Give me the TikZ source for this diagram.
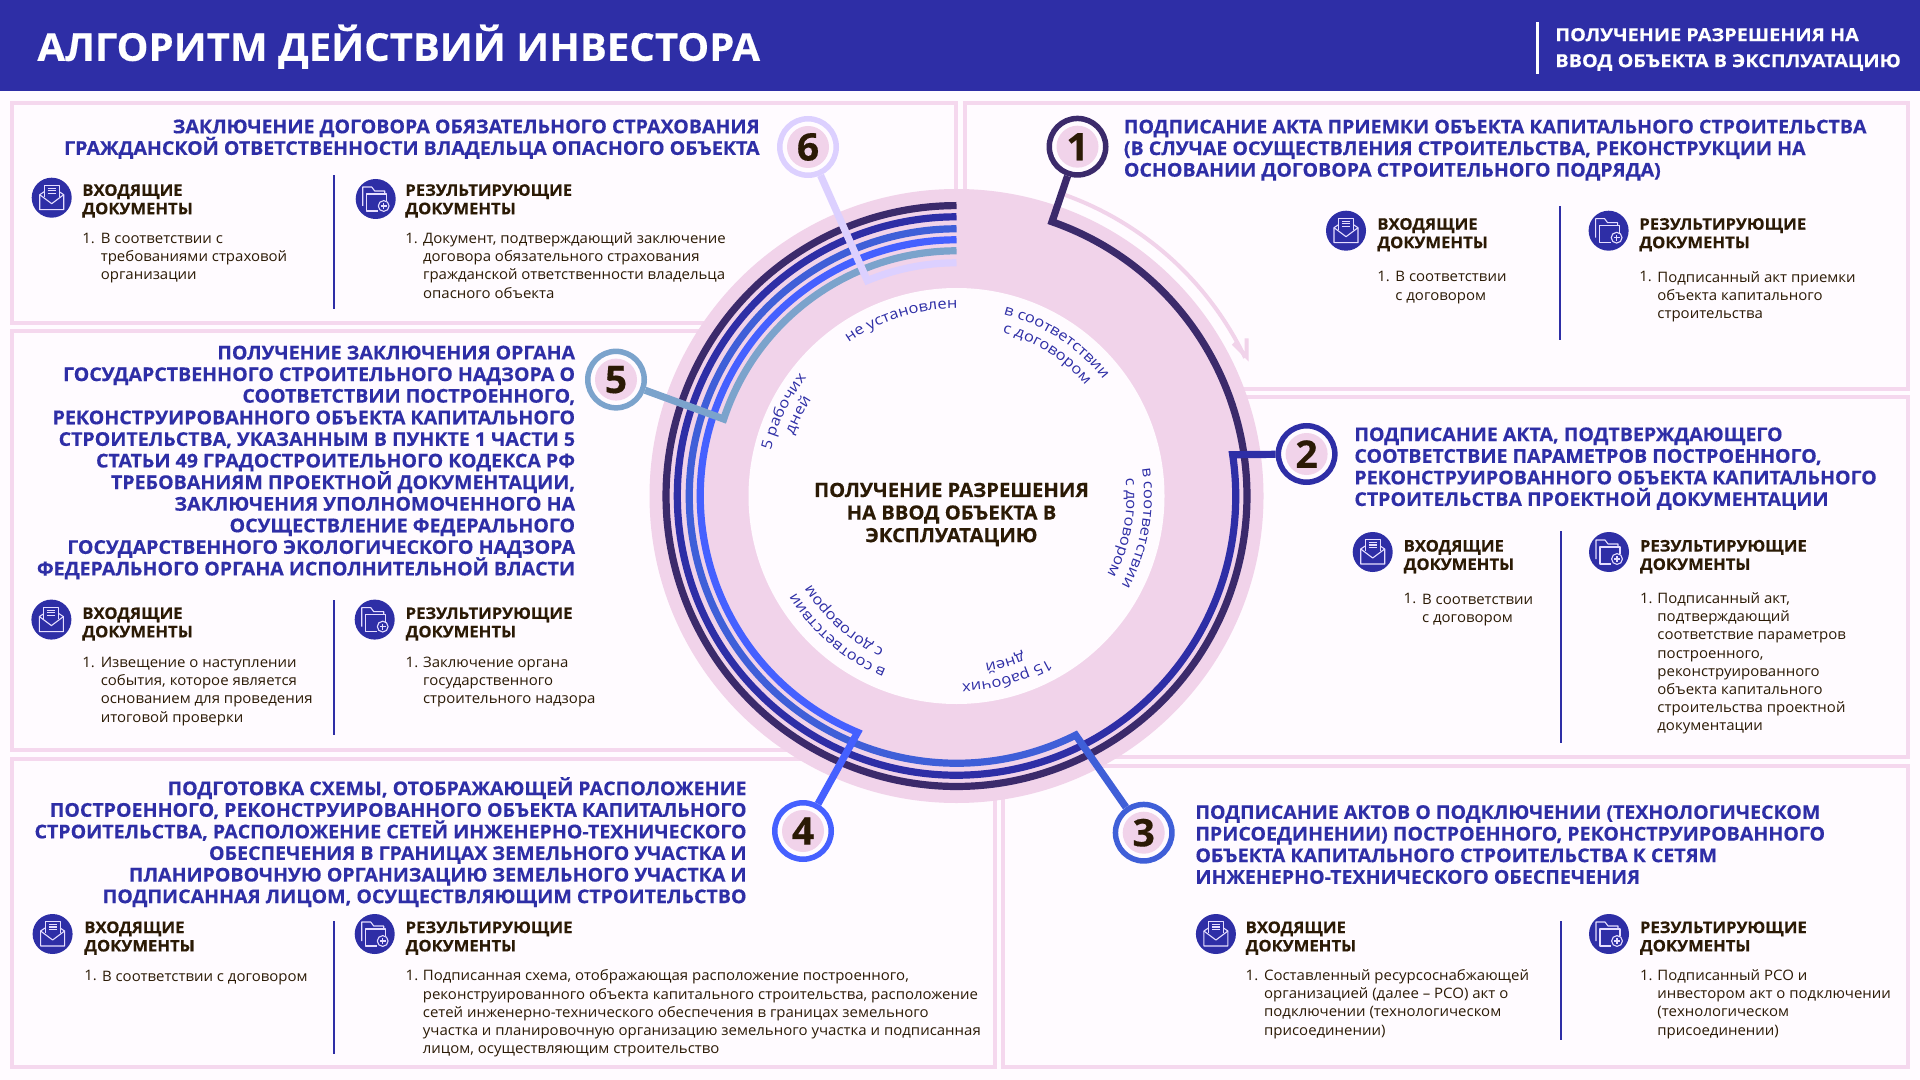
\documentclass[tikz,border=0pt]{standalone}
\usepackage{fontspec}
\setmainfont{Open Sans}
\newfontfamily\hfont{Open Sans}[FakeStretch=1.03,BoldFeatures={FakeBold=0.35}]
\newfontfamily\tfont{Open Sans}[FakeStretch=1.044,BoldFeatures={FakeBold=0.35}]
\newfontfamily\sfontx{Open Sans}[FakeStretch=1.1,BoldFeatures={FakeBold=0.3}]
\newfontfamily\dfont{Open Sans}[FakeStretch=1.04,BoldFeatures={FakeBold=0.3}]
\newfontfamily\bfontx{Open Sans}[FakeStretch=1.04]
\newfontfamily\lfont{Open Sans}[FakeStretch=1.12]
\usetikzlibrary{decorations.text,calc}
\definecolor{navy}{HTML}{2E2EA6}
\definecolor{inkc}{HTML}{2B1A05}
\definecolor{discc}{HTML}{F1D3EA}
\definecolor{framec}{HTML}{F5D8EE}
\definecolor{pagebg}{HTML}{FFFBFF}
\definecolor{rDark}{HTML}{3B2A6B}
\definecolor{rMid}{HTML}{3F5FD8}
\definecolor{rBright}{HTML}{4560FF}
\definecolor{rSteel}{HTML}{7BA3CC}
\definecolor{rLav}{HTML}{DCD0FF}
\definecolor{iconc}{HTML}{E6DEFF}
\tikzset{
  panel/.style={draw=framec,line width=2pt,fill=pagebg},
  heading/.style={inner sep=0pt,text=navy,font=\hfont\bfseries\fontsize{9.5}{10.8}\selectfont,
    execute at begin node=\strut,execute at end node=\strut,yshift=-1.7pt},
  headL/.style={heading,anchor=west,align=left},
  headR/.style={heading,anchor=east,align=right},
  doctitle/.style={inner sep=0pt,anchor=west,align=left,text=inkc,font=\dfont\bfseries\fontsize{8}{9.2}\selectfont,
    execute at begin node=\strut,execute at end node=\strut,yshift=-1.2pt},
  docbody/.style={inner sep=0pt,anchor=west,align=left,text=inkc,font=\bfontx\fontsize{7.2}{9.1}\selectfont,
    execute at begin node=\strut,execute at end node=\strut,yshift=-1.5pt},
  docnum/.style={inner sep=0pt,anchor=west,text=inkc,font=\bfontx\fontsize{7.2}{9.1}\selectfont},
  ring/.style={line width=3.6pt,line join=miter,miter limit=20},
  badge/.style={circle,draw=#1,line width=2.75pt,fill=pagebg,minimum size=28.25pt,inner sep=0pt},
  badgeinner/.style={circle,fill=discc,minimum size=21pt,inner sep=0pt,text=inkc,font=\hfont\bfseries\fontsize{19}{19}\selectfont},
  iconline/.style={draw=iconc,line width=.55pt,line join=round},
  envicon/.pic={
    \fill[navy] (0,0) circle[radius=10pt];
    \draw[iconline] (-7.5,-4) -- (-7.5,-12.5) -- (7.5,-12.5) -- (7.5,-1);
    \draw[iconline] (-7.5,-4) -- (-7.5,-1);
    \draw[iconline] (-4,-9.5) -- (4,-9.5) (-4,-7) -- (4,-7) (-4,-4.5) -- (4,-4.5);
    \draw[iconline] (-7.5,-6) -- (-12,-3) -- (-12,12) -- (12,12) -- (12,-3) -- (7.5,-6);
    \draw[iconline] (-12,-3) -- (0,6) -- (12,-3);
  },
  foldicon/.pic={
    \fill[navy] (0,0) circle[radius=10pt];
    \draw[iconline] (-13,7) -- (-13,-12) -- (-4,-12) -- (-1,-8) -- (9,-8) -- (9,-5);
    \draw[iconline] (2,12) -- (-9,12) -- (-9,-5) -- (11,-5) -- (11,2);
    \draw[iconline] (8,7) circle[radius=2.7pt];
    \draw[iconline] (5,7) -- (11,7) (8,4) -- (8,10);
  },
}
\newcommand\lbl{\lfont\fontsize{7.35}{9}\selectfont\color{navy}}
\newcommand\arclab[3]{%
  \path (c) ++({90-#2+50}:#1) coordinate (tmpstart);
  \path[decorate,decoration={text along path,text align=center,text={|\lbl|#3}}]
    (tmpstart) arc[start angle={90-#2+50},end angle={90-#2-50},radius=#1];}
\newcommand\docin[5]{%
  \pic at (#2,#3) {envicon};
  \node[doctitle] (#1t) at (#4,#5) {ВХОДЯЩИЕ\\ДОКУМЕНТЫ};}
\newcommand\docres[5]{%
  \pic at (#2,#3) {foldicon};
  \node[doctitle] (#1t) at (#4,#5) {РЕЗУЛЬТИРУЮЩИЕ\\ДОКУМЕНТЫ};}
\newcommand\docbd[6]{%
  \node[docnum] (#1n) at (#2,#3) {1.};
  \node[docbody] (#1b) at (#4,#5) {#6};}
\newcommand\sepbar[3]{\fill[navy] (#1-1,#2) rectangle (#1+1,#3);}
\begin{document}
\begin{tikzpicture}[x=.5pt,y=-.5pt]
\lineskiplimit=-100pt
\useasboundingbox (0,0) rectangle (1920,1080);
\fill[pagebg] (0,0) rectangle (1920,1080);
\fill[navy] (0,0) rectangle (1920,91);
\node[inner sep=0pt,anchor=west,text=white,font=\tfont\bfseries\fontsize{19.2}{22}\selectfont] (title) at (37,46.7) {АЛГОРИТМ ДЕЙСТВИЙ ИНВЕСТОРА};
\fill[white] (1535.5,22) rectangle (1539,74);
\node[inner sep=0pt,anchor=west,align=left,text=white,font=\sfontx\bfseries\fontsize{9}{13}\selectfont] (subtitle) at (1555,49.5) {ПОЛУЧЕНИЕ РАЗРЕШЕНИЯ НА\\ВВОД ОБЪЕКТА В ЭКСПЛУАТАЦИЮ};
% panels
\draw[panel] (12,103) rectangle (955.5,323);
\draw[panel] (964.5,103) rectangle (1907.5,389);
\draw[panel] (12,331.5) rectangle (800,750);
\draw[panel] (1110,397) rectangle (1907.5,757);
\draw[panel] (12,758.7) rectangle (995,1067);
\draw[panel] (1002.5,766) rectangle (1907.5,1067);
% disc
\coordinate (c) at (956.5,496);
\fill[discc] (c) circle[radius=153.5pt];
\fill[pagebg] (c) circle[radius=104pt];
% arrow arc
\path (c) ++(70.2:160pt) coordinate (arcs);
\coordinate (arctip) at (1246.7,356.7);
\coordinate (barbA) at (1233.3,343.3);
\coordinate (barbB) at (1246.7,338.3);
\draw[discc,line width=2pt] (arcs) arc[start angle=70.2,end angle=25.6,radius=160pt];
\draw[discc,line width=2pt] (barbA) -- (arctip) -- (barbB);
% badges
\node[badge=rDark] (n1) at (1077.5,146.7) {};
\node[badge=navy] (n2) at (1306.6,454) {};
\node[badge=rMid] (n3) at (1143.7,832.7) {};
\node[badge=rBright] (n4) at (803,831) {};
\node[badge=rSteel] (n5) at (616,379.6) {};
\node[badge=rLav] (n6) at (808,147) {};
% rings
\path (c) ++(70.8:145.2pt) coordinate (s1);
\path (c) ++(8.5:139.6pt) coordinate (s2);
\path (c) ++(-63.5:133.6pt) coordinate (s3);
\path (c) ++(-112.7:128.1pt) coordinate (s4);
\path (c) ++(-198.3:122.6pt) coordinate (s5);
\path (c) ++(-247.5:116.6pt) coordinate (s6);
\draw[ring,rDark] (n1) -- (s1) arc[start angle=70.8,end angle=-270,radius=145.2pt];
\draw[ring,navy] (n2) -- (s2) arc[start angle=8.5,end angle=-270,radius=139.6pt];
\draw[ring,rMid] (n3) -- (s3) arc[start angle=-63.5,end angle=-270,radius=133.6pt];
\draw[ring,rBright] (n4) -- (s4) arc[start angle=-112.7,end angle=-270,radius=128.1pt];
\draw[ring,rSteel] (n5) -- (s5) arc[start angle=-198.3,end angle=-270,radius=122.6pt];
\draw[ring,rLav] (n6) -- (s6) arc[start angle=-247.5,end angle=-270,radius=116.6pt];
% badge inner
\node[badgeinner] (d1) at (n1) {1};
\node[badgeinner] (d2) at (n2) {2};
\node[badgeinner] (d3) at (n3) {3};
\node[badgeinner] (d4) at (n4) {4};
\node[badgeinner] (d5) at (n5) {5};
\node[badgeinner] (d6) at (n6) {6};
% arc labels
\arclab{93.75pt}{33}{в соответствии}
\arclab{85pt}{32.5}{с договором}
\arclab{93.75pt}{100}{в соответствии}
\arclab{85pt}{100.8}{с договором}
\arclab{93.75pt}{164.4}{15 рабочих}
\arclab{85pt}{163.7}{дней}
\arclab{93.75pt}{220.5}{в соответствии}
\arclab{85pt}{222}{с договором}
\arclab{95.5pt}{296}{5 рабочих}
\arclab{87pt}{297}{дней}
\arclab{93.75pt}{342.6}{не установлен}
% centre
\node[inner sep=0pt,align=center,text=inkc,font=\hfont\bfseries\fontsize{9.8}{11.3}\selectfont] (centre) at (951.5,514.5) {ПОЛУЧЕНИЕ РАЗРЕШЕНИЯ\\НА ВВОД ОБЪЕКТА В\\ЭКСПЛУАТАЦИЮ};
% headings
\node[headR] (h6) at (760,137) {ЗАКЛЮЧЕНИЕ ДОГОВОРА ОБЯЗАТЕЛЬНОГО СТРАХОВАНИЯ\\ГРАЖДАНСКОЙ ОТВЕТСТВЕННОСТИ ВЛАДЕЛЬЦА ОПАСНОГО ОБЪЕКТА};
\node[headL] (h1) at (1123.5,148) {ПОДПИСАНИЕ АКТА ПРИЕМКИ ОБЪЕКТА КАПИТАЛЬНОГО СТРОИТЕЛЬСТВА\\(В СЛУЧАЕ ОСУЩЕСТВЛЕНИЯ СТРОИТЕЛЬСТВА, РЕКОНСТРУКЦИИ НА\\ОСНОВАНИИ ДОГОВОРА СТРОИТЕЛЬНОГО ПОДРЯДА)};
\node[headL] (h2) at (1354,466.5) {ПОДПИСАНИЕ АКТА, ПОДТВЕРЖДАЮЩЕГО\\СООТВЕТСТВИЕ ПАРАМЕТРОВ ПОСТРОЕННОГО,\\РЕКОНСТРУИРОВАННОГО ОБЪЕКТА КАПИТАЛЬНОГО\\СТРОИТЕЛЬСТВА ПРОЕКТНОЙ ДОКУМЕНТАЦИИ};
\node[headL] (h3) at (1195,844.3) {ПОДПИСАНИЕ АКТОВ О ПОДКЛЮЧЕНИИ (ТЕХНОЛОГИЧЕСКОМ\\ПРИСОЕДИНЕНИИ) ПОСТРОЕННОГО, РЕКОНСТРУИРОВАННОГО\\ОБЪЕКТА КАПИТАЛЬНОГО СТРОИТЕЛЬСТВА К СЕТЯМ\\ИНЖЕНЕРНО-ТЕХНИЧЕСКОГО ОБЕСПЕЧЕНИЯ};
\node[headR] (h4) at (747,840) {ПОДГОТОВКА СХЕМЫ, ОТОБРАЖАЮЩЕЙ РАСПОЛОЖЕНИЕ\\ПОСТРОЕННОГО, РЕКОНСТРУИРОВАННОГО ОБЪЕКТА КАПИТАЛЬНОГО\\СТРОИТЕЛЬСТВА, РАСПОЛОЖЕНИЕ СЕТЕЙ ИНЖЕНЕРНО-ТЕХНИЧЕСКОГО\\ОБЕСПЕЧЕНИЯ В ГРАНИЦАХ ЗЕМЕЛЬНОГО УЧАСТКА И\\ПЛАНИРОВОЧНУЮ ОРГАНИЗАЦИЮ ЗЕМЕЛЬНОГО УЧАСТКА И\\ПОДПИСАННАЯ ЛИЦОМ, ОСУЩЕСТВЛЯЮЩИМ СТРОИТЕЛЬСТВО};
\node[headR] (h5) at (575.5,460.4) {ПОЛУЧЕНИЕ ЗАКЛЮЧЕНИЯ ОРГАНА\\ГОСУДАРСТВЕННОГО СТРОИТЕЛЬНОГО НАДЗОРА О\\СООТВЕТСТВИИ ПОСТРОЕННОГО,\\РЕКОНСТРУИРОВАННОГО ОБЪЕКТА КАПИТАЛЬНОГО\\СТРОИТЕЛЬСТВА, УКАЗАННЫМ В ПУНКТЕ 1 ЧАСТИ 5\\СТАТЬИ 49 ГРАДОСТРОИТЕЛЬНОГО КОДЕКСА РФ\\ТРЕБОВАНИЯМ ПРОЕКТНОЙ ДОКУМЕНТАЦИИ,\\ЗАКЛЮЧЕНИЯ УПОЛНОМОЧЕННОГО НА\\ОСУЩЕСТВЛЕНИЕ ФЕДЕРАЛЬНОГО\\ГОСУДАРСТВЕННОГО ЭКОЛОГИЧЕСКОГО НАДЗОРА\\ФЕДЕРАЛЬНОГО ОРГАНА ИСПОЛНИТЕЛЬНОЙ ВЛАСТИ};
% panel 6 documents
\docin{a6}{51.7}{197.7}{82}{199.6}
\docbd{a6}{82}{238}{100.4}{256}{В соответствии с\\требованиями страховой\\организации}
\sepbar{333.7}{175}{309}
\docres{b6}{375.7}{199}{405}{199.6}
\docbd{b6}{405}{238}{422.7}{265}{Документ, подтверждающий заключение\\договора обязательного страхования\\гражданской ответственности владельца\\опасного объекта}
% panel 1
\docin{a1}{1346}{230.7}{1377}{233.5}
\docbd{a1}{1377}{276.3}{1395}{285.5}{В соответствии\\с договором}
\sepbar{1560}{206}{340}
\docres{b1}{1608.6}{230.7}{1639}{233.5}
\docbd{b1}{1639}{276.3}{1657}{294.5}{Подписанный акт приемки\\объекта капитального\\строительства}
% panel 2
\docin{a2}{1372.7}{552}{1403.3}{555.3}
\docbd{a2}{1403.3}{598.8}{1421.7}{607.7}{В соответствии\\с договором}
\sepbar{1561}{531.4}{743}
\docres{b2}{1609}{552}{1639.6}{555.3}
\docbd{b2}{1639.6}{598.8}{1657}{661.5}{Подписанный акт,\\подтверждающий\\соответствие параметров\\построенного,\\реконструированного\\объекта капитального\\строительства проектной\\документации}
% panel 3
\docin{a3}{1215.9}{934}{1245.3}{936.8}
\docbd{a3}{1245.3}{975.3}{1263.7}{1002}{Составленный ресурсоснабжающей\\организацией (далее – РСО) акт о\\подключении (технологическом\\присоединении)}
\sepbar{1561}{920.8}{1040}
\docres{b3}{1609}{934}{1639.6}{936.8}
\docbd{b3}{1639.6}{975.3}{1657}{1002}{Подписанный РСО и\\инвестором акт о подключении\\(технологическом\\присоединении)}
% panel 4
\docin{a4}{52.6}{934}{83.9}{936.8}
\docbd{a4}{84}{975.3}{101.6}{975.3}{В соответствии с договором}
\sepbar{333.7}{920.8}{1054}
\docres{b4}{374.7}{934}{405.3}{936.8}
\docbd{b4}{405.3}{975.3}{422.5}{1011.5}{Подписанная схема, отображающая расположение построенного,\\реконструированного объекта капитального строительства, расположение\\сетей инженерно-технического обеспечения в границах земельного\\участка и планировочную организацию земельного участка и подписанная\\лицом, осуществляющим строительство}
% panel 5
\docin{a5}{51.4}{619.6}{82}{622.7}
\docbd{a5}{82}{662.5}{100.4}{689.4}{Извещение о наступлении\\события, которое является\\основанием для проведения\\итоговой проверки}
\sepbar{333.7}{600}{734.7}
\docres{b5}{374.7}{619.6}{405.3}{622.7}
\docbd{b5}{405.3}{662.5}{422.7}{680.2}{Заключение органа\\государственного\\строительного надзора}
\end{tikzpicture}
\end{document}
